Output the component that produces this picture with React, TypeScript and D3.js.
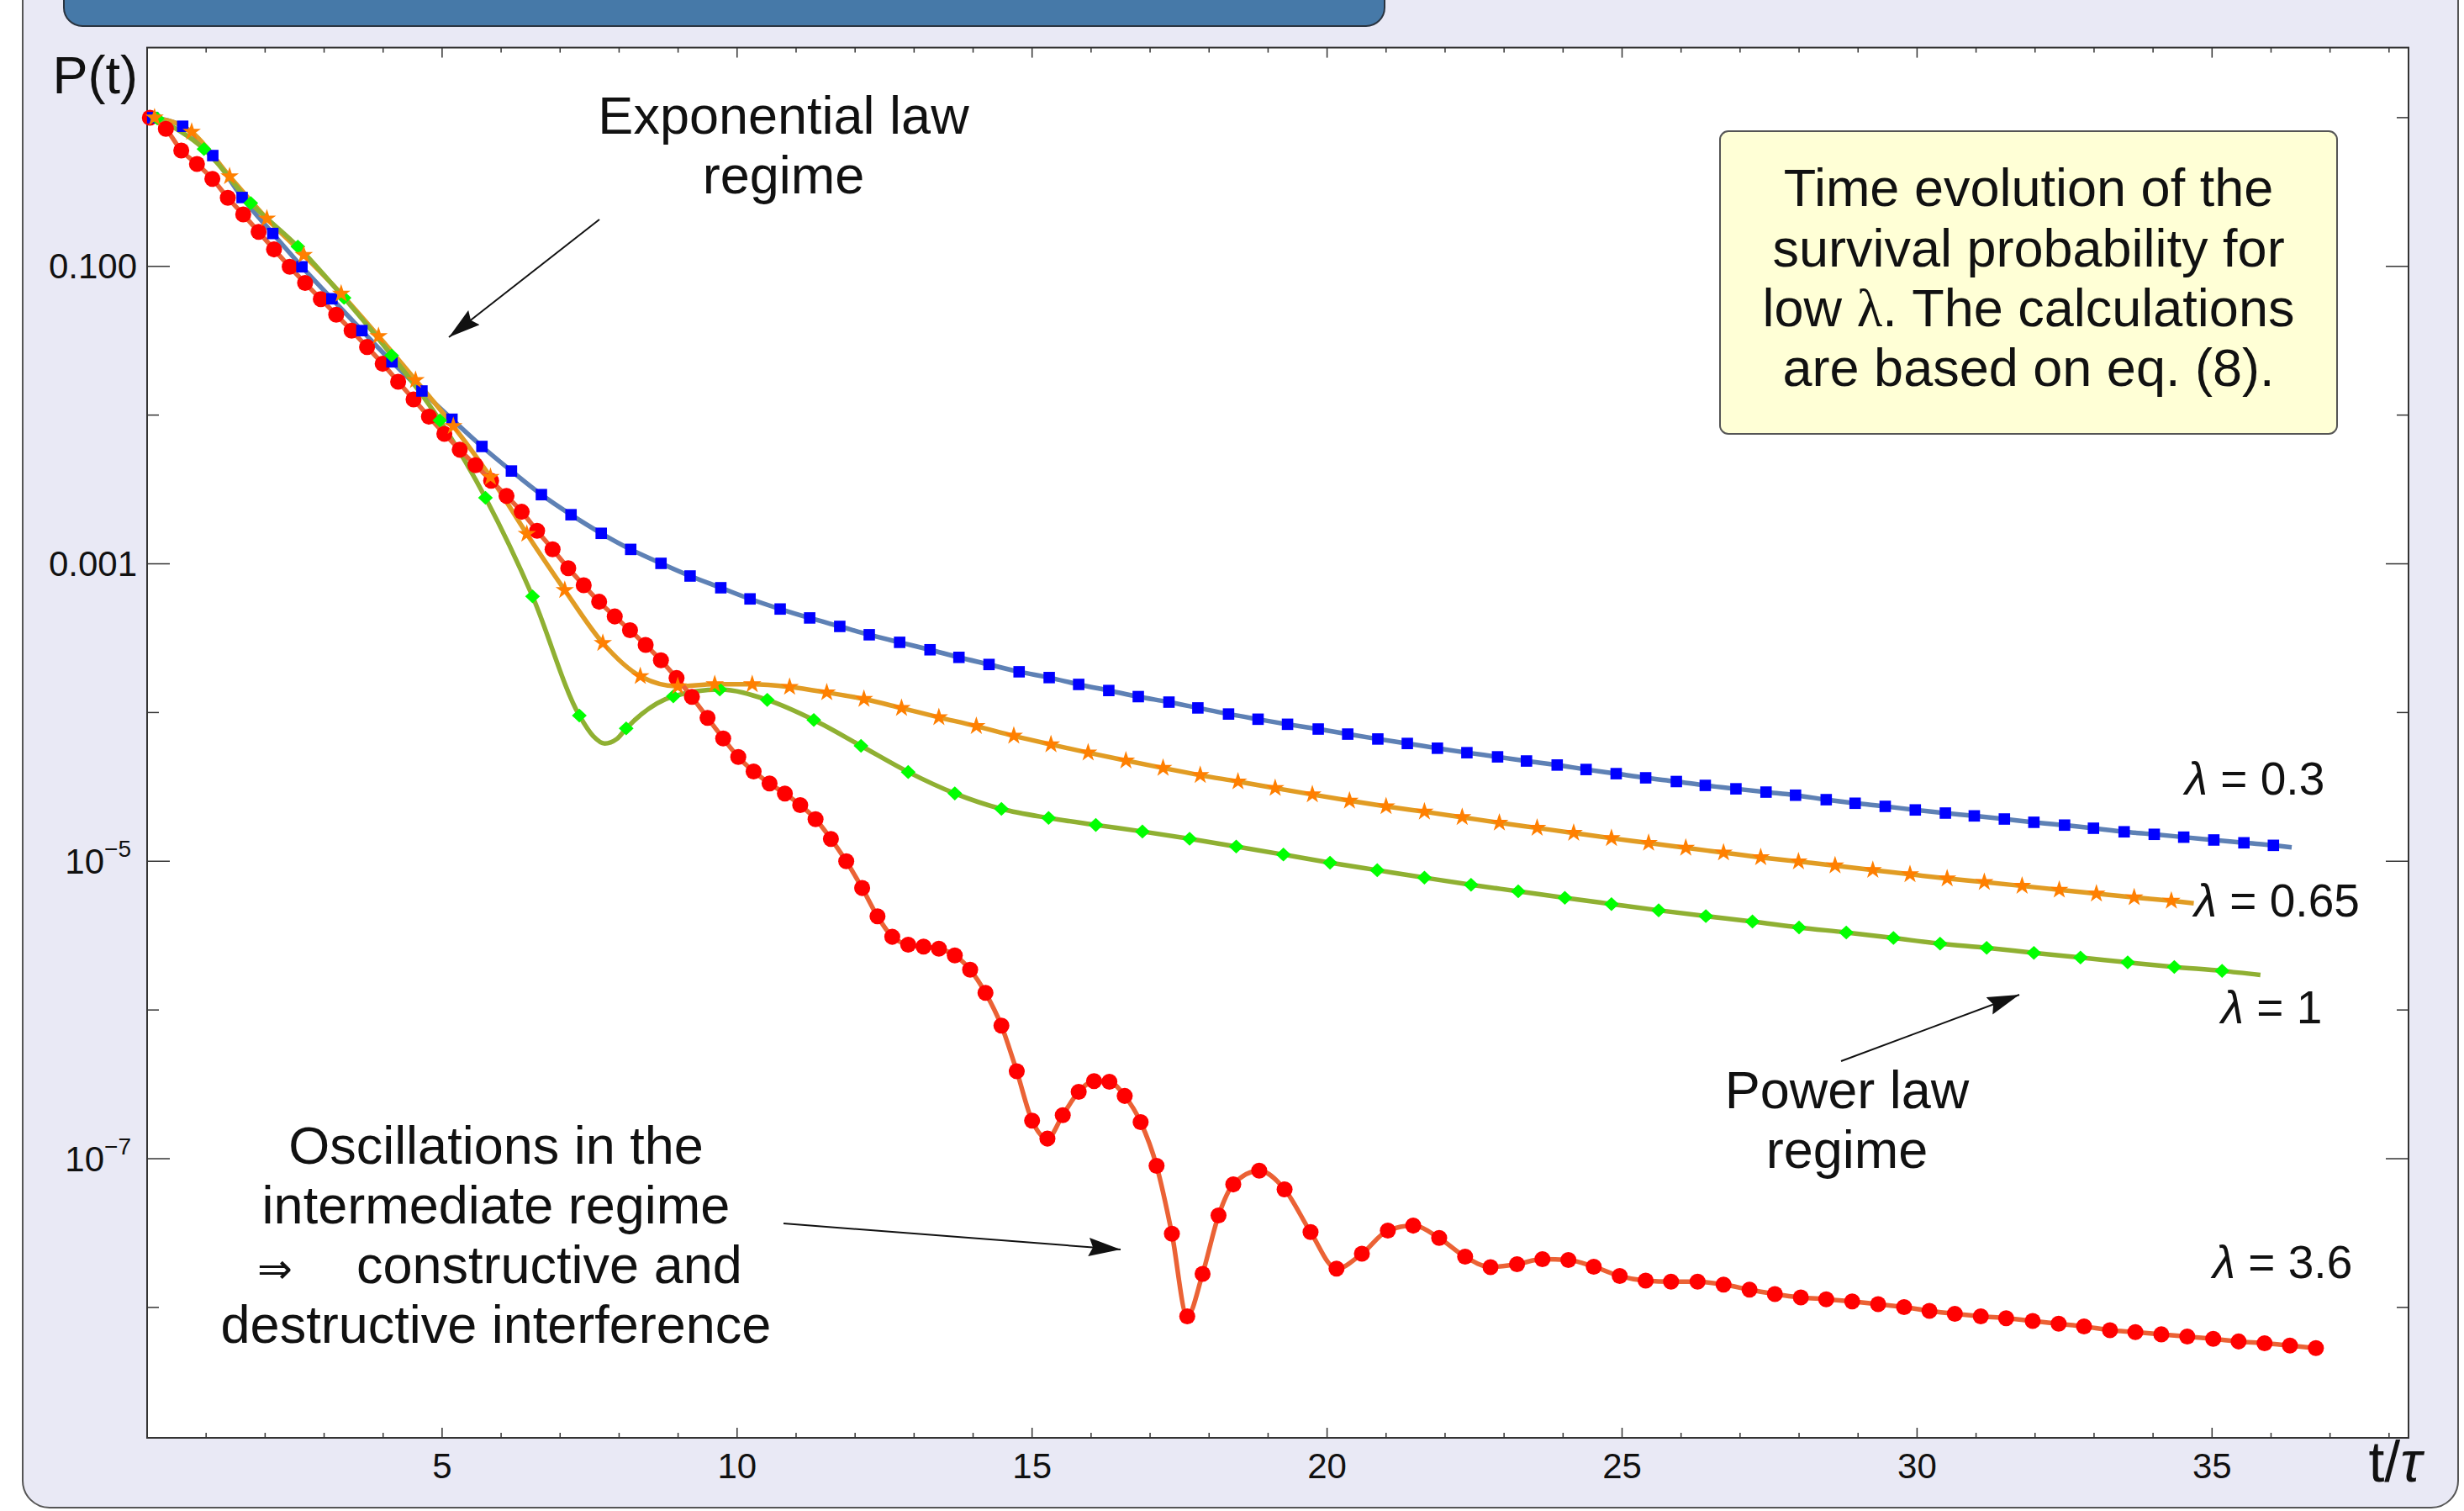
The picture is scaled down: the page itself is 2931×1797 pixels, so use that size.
import React from 'react';
import * as d3 from 'd3';

// ---------- data (t/τ and log10 P(t)) ----------
const redT = [0.047, 0.318, 0.579, 0.845, 1.106, 1.368, 1.629, 1.89, 2.151, 2.417, 2.678, 2.944, 3.205, 3.466, 3.728, 3.993, 4.255, 4.516, 4.777, 5.038, 5.299, 5.565, 5.831, 6.092, 6.349, 6.61, 6.873, 7.138, 7.4, 7.662, 7.926, 8.185, 8.45, 8.709, 8.974, 9.234, 9.499, 9.764, 10.02, 10.28, 10.55, 10.81, 11.07, 11.33, 11.59, 11.85, 12.12, 12.38, 12.63, 12.9, 13.16, 13.42, 13.69, 13.95, 14.21, 14.48, 14.74, 15.0, 15.26, 15.52, 15.79, 16.05, 16.31, 16.57, 16.84, 17.11, 17.37, 17.63, 17.89, 18.16, 18.41, 18.85, 19.28, 19.72, 20.16, 20.59, 21.03, 21.46, 21.9, 22.34, 22.77, 23.22, 23.65, 24.09, 24.52, 24.96, 25.4, 25.83, 26.28, 26.72, 27.16, 27.59, 28.03, 28.46, 28.9, 29.34, 29.78, 30.21, 30.64, 31.08, 31.51, 31.96, 32.4, 32.83, 33.27, 33.7, 34.14, 34.58, 35.02, 35.45, 35.89, 36.32, 36.76];
const redLogP = [0, -0.076, -0.221, -0.311, -0.412, -0.539, -0.651, -0.768, -0.886, -1.003, -1.112, -1.22, -1.325, -1.432, -1.542, -1.655, -1.776, -1.894, -2.011, -2.126, -2.233, -2.337, -2.441, -2.544, -2.65, -2.778, -2.902, -3.029, -3.144, -3.255, -3.354, -3.447, -3.546, -3.649, -3.768, -3.895, -4.036, -4.174, -4.299, -4.396, -4.477, -4.545, -4.622, -4.717, -4.85, -5.0, -5.18, -5.37, -5.508, -5.561, -5.574, -5.588, -5.633, -5.729, -5.885, -6.105, -6.412, -6.744, -6.865, -6.707, -6.55, -6.478, -6.483, -6.578, -6.754, -7.048, -7.505, -8.06, -7.774, -7.382, -7.173, -7.081, -7.206, -7.493, -7.739, -7.639, -7.483, -7.45, -7.533, -7.659, -7.729, -7.709, -7.676, -7.681, -7.726, -7.789, -7.82, -7.827, -7.827, -7.847, -7.88, -7.91, -7.933, -7.945, -7.96, -7.978, -7.998, -8.023, -8.043, -8.06, -8.073, -8.091, -8.11, -8.128, -8.153, -8.166, -8.181, -8.196, -8.211, -8.229, -8.241, -8.257, -8.274];

const blueT = [0.095, 0.603, 1.113, 1.61, 2.13, 2.624, 3.132, 3.641, 4.15, 4.658, 5.167, 5.675, 6.175, 6.683, 7.185, 7.697, 8.197, 8.71, 9.203, 9.724, 10.219, 10.73, 11.23, 11.74, 12.24, 12.755, 13.27, 13.76, 14.27, 14.78, 15.29, 15.79, 16.3, 16.8, 17.32, 17.81, 18.33, 18.83, 19.33, 19.85, 20.35, 20.86, 21.36, 21.87, 22.37, 22.89, 23.38, 23.9, 24.39, 24.9, 25.4, 25.92, 26.41, 26.93, 27.44, 27.94, 28.46, 28.95, 29.46, 29.97, 30.48, 30.97, 31.48, 31.98, 32.5, 32.99, 33.51, 34.02, 34.52, 35.03, 35.54, 36.04];
const blueLogP = [0, -0.058, -0.255, -0.537, -0.779, -1.003, -1.218, -1.432, -1.642, -1.838, -2.028, -2.211, -2.376, -2.535, -2.67, -2.795, -2.903, -2.997, -3.082, -3.161, -3.236, -3.304, -3.364, -3.421, -3.477, -3.528, -3.578, -3.629, -3.677, -3.726, -3.765, -3.811, -3.852, -3.893, -3.93, -3.969, -4.01, -4.045, -4.079, -4.111, -4.145, -4.178, -4.208, -4.24, -4.27, -4.298, -4.326, -4.353, -4.383, -4.411, -4.439, -4.464, -4.49, -4.513, -4.535, -4.556, -4.586, -4.61, -4.631, -4.655, -4.676, -4.695, -4.716, -4.738, -4.757, -4.778, -4.802, -4.819, -4.838, -4.857, -4.876, -4.893];
const blueLineEnd = [36.35, -4.906];

const orangeT = [0.126, 0.755, 1.398, 2.03, 2.655, 3.289, 3.922, 4.55, 5.19, 5.82, 6.436, 7.079, 7.724, 8.359, 8.994, 9.621, 10.256, 10.89, 11.52, 12.15, 12.787, 13.42, 14.055, 14.69, 15.32, 15.95, 16.59, 17.22, 17.85, 18.49, 19.12, 19.75, 20.38, 21.0, 21.65, 22.29, 22.92, 23.56, 24.18, 24.82, 25.45, 26.08, 26.72, 27.35, 27.99, 28.61, 29.25, 29.88, 30.51, 31.14, 31.78, 32.41, 33.04, 33.68, 34.31];
const orangeLogP = [0, -0.096, -0.395, -0.679, -0.924, -1.184, -1.47, -1.765, -2.074, -2.417, -2.799, -3.177, -3.533, -3.756, -3.824, -3.81, -3.81, -3.828, -3.865, -3.909, -3.97, -4.032, -4.092, -4.157, -4.215, -4.27, -4.323, -4.373, -4.421, -4.464, -4.508, -4.551, -4.593, -4.631, -4.667, -4.704, -4.741, -4.776, -4.81, -4.845, -4.877, -4.91, -4.942, -4.974, -5.002, -5.029, -5.059, -5.088, -5.116, -5.14, -5.166, -5.192, -5.218, -5.243, -5.266];
const orangeLineEnd = [34.69, -5.282];

const greenT = [0.17, 0.964, 1.757, 2.555, 3.338, 4.145, 4.962, 5.735, 6.533, 7.326, 8.12, 8.919, 9.707, 10.511, 11.3, 12.1, 12.9, 13.69, 14.48, 15.28, 16.08, 16.87, 17.67, 18.46, 19.26, 20.05, 20.85, 21.65, 22.44, 23.24, 24.03, 24.82, 25.62, 26.42, 27.21, 28.0, 28.8, 29.6, 30.39, 31.18, 31.98, 32.77, 33.57, 34.36, 35.17];
const greenLogP = [-0.005, -0.211, -0.575, -0.867, -1.212, -1.599, -2.036, -2.556, -3.219, -4.02, -4.107, -3.891, -3.845, -3.915, -4.05, -4.224, -4.4, -4.544, -4.648, -4.709, -4.756, -4.8, -4.849, -4.901, -4.955, -5.01, -5.06, -5.11, -5.158, -5.202, -5.246, -5.288, -5.33, -5.369, -5.405, -5.445, -5.479, -5.516, -5.554, -5.582, -5.616, -5.647, -5.68, -5.711, -5.737];
// extra points on the green curve (dip) that carry no marker
const greenLineOnlyT = [7.56, 7.755, 7.96, 35.82];
const greenLineOnlyLogP = [-4.158, -4.208, -4.178, -5.765];

const seriesNames = ['λ = 0.3', 'λ = 0.65', 'λ = 1', 'λ = 3.6'];

const xMajorTicks = [5, 10, 15, 20, 25, 30, 35];
const xMinorTicks = d3.range(1, 39);
const yMajorTicks = [1e-1, 1e-3, 1e-5, 1e-7];
const yMajorMain = ['0.100', '0.001', '10', '10'];
const yMajorSup = ['', '', '−5', '−7'];
const yMinorTicks = [1, 1e-2, 1e-4, 1e-6, 1e-8];

// ---------- layout ----------
const W = 2931, H = 1797;
const PL = 175, PR = 2865, PT = 56.6, PB = 1710;
const FONT = "'Liberation Sans', Arial, Helvetica, sans-serif";

const x = d3.scaleLinear().domain([0, 38.33]).range([PL, PR]);
const y = d3.scaleLog().domain([Math.pow(10, -8.877), Math.pow(10, 0.471)]).range([PB, PT]);

type Pt = [number, number];
const zip = (t: number[], lp: number[]): Pt[] => t.map((v, i) => [v, lp[i]] as Pt);

const lineGen = d3.line<Pt>()
  .x(d => x(d[0]))
  .y(d => y(Math.pow(10, d[1])))
  .curve(d3.curveMonotoneX);

const starPath = d3.symbol().type(d3.symbolStar).size(150)()!;
const squarePath = d3.symbol().type(d3.symbolSquare).size(185)()!;
const circlePath = d3.symbol().type(d3.symbolCircle).size(285)()!;
const diamondPath = 'M0,-8.3L8.8,0L0,8.3L-8.8,0Z';

const blueMarkers = zip(blueT, blueLogP);
const orangeMarkers = zip(orangeT, orangeLogP);
const greenMarkers = zip(greenT, greenLogP);
const redMarkers = zip(redT, redLogP);

const blueLine = [...blueMarkers, blueLineEnd as Pt];
const orangeLine = [...orangeMarkers, orangeLineEnd as Pt];
const greenLine = [...greenMarkers, ...zip(greenLineOnlyT, greenLineOnlyLogP)].sort((a, b) => a[0] - b[0]);
const redLine = redMarkers;

const series = [
  { line: blueLine, marks: blueMarkers, lc: '#5E81B5', mc: '#0000FF', path: squarePath },
  { line: orangeLine, marks: orangeMarkers, lc: '#E19C24', mc: '#FF7F00', path: starPath },
  { line: greenLine, marks: greenMarkers, lc: '#8FB032', mc: '#00FF00', path: diamondPath },
  { line: redLine, marks: redMarkers, lc: '#EB6235', mc: '#FF0000', path: circlePath },
];
const markerOrder = [3, 0, 2, 1];

const legendPos = [
  { x: 2599, y: 945 },
  { x: 2610, y: 1090 },
  { x: 2642, y: 1217 },
  { x: 2632, y: 1520 },
];

const Arrow = ({ x1, y1, x2, y2 }: { x1: number; y1: number; x2: number; y2: number }) => (
  <line x1={x1} y1={y1} x2={x2} y2={y2} stroke="#111" strokeWidth={2} markerEnd="url(#ahead)" />
);

export default function App() {
  const txt = { fontFamily: FONT, fill: '#111' } as const;
  return (
    <svg width={W} height={H} viewBox={`0 0 ${W} ${H}`} style={{ position: 'absolute', left: 0, top: 0, display: 'block', background: '#fff' }}>
      <defs>
        <marker id="ahead" markerUnits="userSpaceOnUse" markerWidth={42} markerHeight={24} refX={38} refY={11} orient="auto">
          <path d="M0,0L38,11L0,22L5,11Z" fill="#111" />
        </marker>
      </defs>
      {/* outer panel */}
      <rect x={27} y={-60} width={2897} height={1853} rx={32} fill="#E9E9F5" stroke="#555" strokeWidth={2} />
      {/* title bar */}
      <rect x={76} y={-60} width={1571} height={91} rx={22} fill="#4679A8" stroke="#2A3440" strokeWidth={2} />
      {/* plot area */}
      <rect x={PL} y={PT} width={PR - PL} height={PB - PT} fill="#fff" stroke="#333" strokeWidth={2} />

      {/* ticks */}
      {xMinorTicks.map(t => {
        const major = xMajorTicks.includes(t);
        const L = major ? 12 : 6;
        return (
          <g key={'xt' + t}>
            <line x1={x(t)} x2={x(t)} y1={PB} y2={PB - L} stroke="#333" strokeWidth={1.5} />
            <line x1={x(t)} x2={x(t)} y1={PT} y2={PT + L} stroke="#333" strokeWidth={1.5} />
          </g>
        );
      })}
      {yMajorTicks.map(v => (
        <g key={'ym' + v}>
          <line x1={PL} x2={PL + 27} y1={y(v)} y2={y(v)} stroke="#333" strokeWidth={1.5} />
          <line x1={PR} x2={PR - 27} y1={y(v)} y2={y(v)} stroke="#333" strokeWidth={1.5} />
        </g>
      ))}
      {yMinorTicks.map(v => (
        <g key={'yn' + v}>
          <line x1={PL} x2={PL + 14} y1={y(v)} y2={y(v)} stroke="#333" strokeWidth={1.5} />
          <line x1={PR} x2={PR - 14} y1={y(v)} y2={y(v)} stroke="#333" strokeWidth={1.5} />
        </g>
      ))}
      {xMajorTicks.map(t => (
        <text key={'xl' + t} x={x(t)} y={1758} textAnchor="middle" fontSize={42} {...txt}>{t}</text>
      ))}
      {yMajorTicks.map((v, i) => (
        yMajorSup[i] ? (
          <text key={'yl' + v} x={156} y={y(v) + 15} textAnchor="end" fontSize={42} {...txt}>
            {yMajorMain[i]}
            <tspan fontSize={28} dy={-20}>{yMajorSup[i]}</tspan>
          </text>
        ) : (
          <text key={'yl' + v} x={163} y={y(v) + 14} textAnchor="end" fontSize={42} {...txt}>{yMajorMain[i]}</text>
        )
      ))}
      <text x={164} y={111} textAnchor="end" fontSize={63} {...txt}>P(t)</text>
      <text x={2849} y={1762} textAnchor="middle" fontSize={68} {...txt}>t/<tspan fontStyle="italic">τ</tspan></text>

      {/* curves */}
      {series.map((s, i) => (
        <path key={'ln' + i} d={lineGen(s.line)!} fill="none" stroke={s.lc} strokeWidth={5.5} strokeLinejoin="round" />
      ))}
      {markerOrder.map(i => (
        <g key={'mk' + i} fill={series[i].mc}>
          {series[i].marks.map((d, j) => (
            <path key={j} d={series[i].path} transform={`translate(${x(d[0])},${y(Math.pow(10, d[1]))})`} />
          ))}
        </g>
      ))}

      {/* legend labels */}
      {seriesNames.map((n, i) => (
        <text key={'lg' + i} x={legendPos[i].x} y={legendPos[i].y} fontSize={55} {...txt}>
          <tspan fontStyle="italic">λ</tspan>{n.slice(1)}
        </text>
      ))}

      {/* annotation box */}
      <rect x={2046} y={156} width={734} height={360} rx={10} fill="#FFFFD6" stroke="#555" strokeWidth={2} />
      <g fontSize={63} textAnchor="middle" {...txt}>
        <text x={2413} y={245}>Time evolution of the</text>
        <text x={2413} y={317}>survival probability for</text>
        <text x={2413} y={388}>low <tspan fontFamily="'Liberation Serif', serif">λ</tspan>. The calculations</text>
        <text x={2413} y={459}>are based on eq. (8).</text>
      </g>

      {/* text annotations */}
      <g fontSize={63} textAnchor="middle" {...txt}>
        <text x={932} y={159}>Exponential law</text>
        <text x={932} y={230}>regime</text>
        <text x={590} y={1384}>Oscillations in the</text>
        <text x={590} y={1455}>intermediate regime</text>
        <text x={327} y={1526} fontFamily="'DejaVu Sans', sans-serif" fontSize={50}>⇒</text>
        <text x={424} y={1526} textAnchor="start">constructive and</text>
        <text x={590} y={1597}>destructive interference</text>
        <text x={2197} y={1318}>Power law</text>
        <text x={2197} y={1389}>regime</text>
      </g>
      <Arrow x1={713} y1={261} x2={534} y2={401} />
      <Arrow x1={932} y1={1455} x2={1333} y2={1486} />
      <Arrow x1={2190} y1={1262} x2={2402} y2={1183} />
    </svg>
  );
}
